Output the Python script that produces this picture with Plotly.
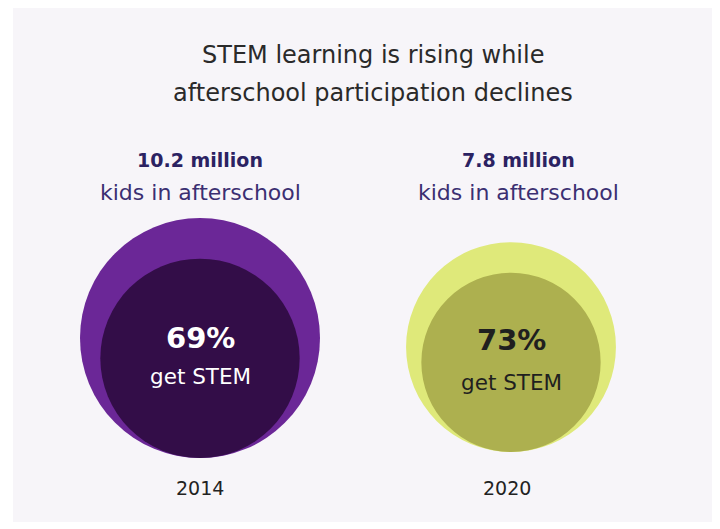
import plotly.graph_objects as go
import math

# ---- data ----
years = ["2014", "2020"]
kids_millions = [10.2, 7.8]
stem_pct = [69, 73]
outer_colors = ["#6b2797", "#dfe97a"]
inner_colors = ["#330d48", "#adb04f"]
pct_text_colors = ["#ffffff", "#1f1f1f"]

W, H = 720, 529
OFF = 8  # page body margin; axes are set so data coords == screen pixels
fig = go.Figure()

fig.add_trace(go.Scatter(x=[OFF, W + OFF], y=[OFF, H + OFF], mode="markers",
                         marker=dict(opacity=0), hoverinfo="skip", showlegend=False))

# panel background
fig.add_shape(type="rect", xref="x", yref="y", x0=13, x1=716, y0=0, y1=522,
              fillcolor="#f7f5f9", line=dict(width=0), layer="below")

R_max = 120
centers_x = [200, 511]
bottoms_y = [458, 452]
label_x = [200, 518]
year_x = [200, 507]
pct_dy = [-20, -22]
get_dy = [18, 20]

FONT = "DejaVu Sans, sans-serif"
for i in range(len(years)):
    R = R_max * math.sqrt(kids_millions[i] / max(kids_millions))
    r = R * math.sqrt(stem_pct[i] / 100)
    cx = centers_x[i]
    b = bottoms_y[i]
    fig.add_shape(type="circle", xref="x", yref="y",
                  x0=cx - R, x1=cx + R, y0=b - 2 * R, y1=b,
                  fillcolor=outer_colors[i], line=dict(width=0))
    fig.add_shape(type="circle", xref="x", yref="y",
                  x0=cx - r, x1=cx + r, y0=b - 2 * r, y1=b,
                  fillcolor=inner_colors[i], line=dict(width=0))
    icy = b - r
    fig.add_annotation(x=cx, y=icy + pct_dy[i], text=f"<b>{stem_pct[i]}%</b>", showarrow=False,
                       font=dict(family=FONT, size=29, color=pct_text_colors[i]))
    fig.add_annotation(x=cx, y=icy + get_dy[i], text="get STEM", showarrow=False,
                       font=dict(family=FONT, size=21.5, color=pct_text_colors[i]))
    fig.add_annotation(x=label_x[i], y=160, text=f"<b>{kids_millions[i]} million</b>",
                       showarrow=False, font=dict(family=FONT, size=19, color="#2b2262"))
    fig.add_annotation(x=label_x[i], y=192, text="kids in afterschool",
                       showarrow=False, font=dict(family=FONT, size=22, color="#3b2f72"))
    fig.add_annotation(x=year_x[i], y=488, text=years[i],
                       showarrow=False, font=dict(family=FONT, size=19, color="#222222"))

fig.add_annotation(x=373, y=55, text="STEM learning is rising while", showarrow=False,
                   font=dict(family=FONT, size=24, color="#2a2a2a"))
fig.add_annotation(x=373, y=93, text="afterschool participation declines", showarrow=False,
                   font=dict(family=FONT, size=24, color="#2a2a2a"))

fig.update_xaxes(range=[OFF, W + OFF], visible=False, fixedrange=True)
fig.update_yaxes(range=[H + OFF, OFF], visible=False, fixedrange=True)
fig.update_layout(width=W, height=H, margin=dict(l=0, r=0, t=0, b=0),
                  paper_bgcolor="#ffffff", plot_bgcolor="rgba(0,0,0,0)", showlegend=False)

fig.write_html("out.html")
